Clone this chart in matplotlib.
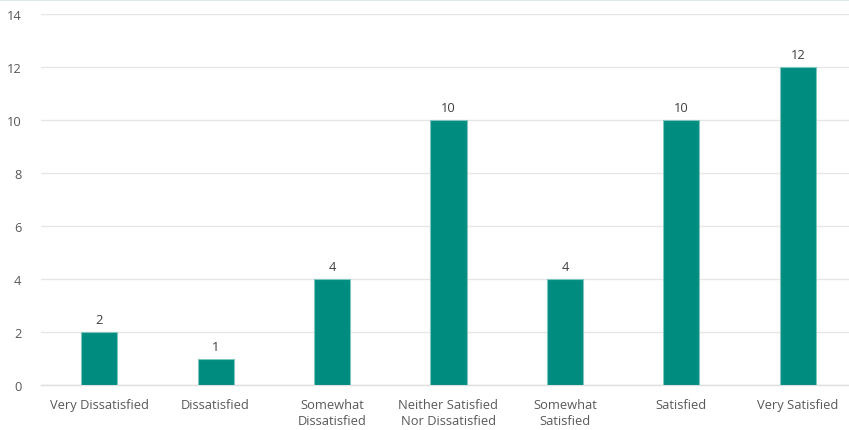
import matplotlib
matplotlib.use("Agg")
import matplotlib.pyplot as plt

categories = ["Very Dissatisfied", "Dissatisfied", "Somewhat\nDissatisfied",
              "Neither Satisfied\nNor Dissatisfied", "Somewhat\nSatisfied",
              "Satisfied", "Very Satisfied"]
counts = [2, 1, 4, 10, 4, 10, 12]
yticks = [0, 2, 4, 6, 8, 10, 12, 14]

plt.rcParams['font.family'] = ['Open Sans', 'DejaVu Sans']
bar_color = "#008C7F"
text_color = "#595959"

fig = plt.figure(figsize=(8.49, 4.31), dpi=100)
ax = fig.add_axes([0.0483, 0.1044, 0.9517, 0.8608])

x = list(range(len(categories)))
bars = ax.bar(x, counts, width=0.31, color=bar_color,
              edgecolor="#7FC6BF", linewidth=0.8, zorder=3)
for xi, v in zip(x, counts):
    ax.annotate(str(v), (xi, v), xytext=(0, 4), textcoords="offset points",
                ha="center", va="bottom", fontsize=9.3, color="#404040")

ax.set_xlim(-0.5, 6.44)
ax.set_ylim(0, 14)
ax.set_yticks(yticks)
ax.set_xticks(x)
ax.set_xticklabels(categories, fontsize=9.3, color=text_color, linespacing=1.3)
ax.tick_params(axis="y", labelsize=9.3, colors=text_color, length=0, pad=14)
ax.tick_params(axis="x", length=0, pad=9)
ax.grid(axis="y", color="#E6E6E6", linewidth=1, zorder=0)
for s in ["top", "right", "left"]:
    ax.spines[s].set_visible(False)
ax.spines["bottom"].set_color("#E0E0E0")
ax.spines["bottom"].set_linewidth(1)

# thin accent rule along the top edge of the figure
fig.add_artist(plt.Line2D([0, 1], [0.998, 0.998], color="#D3E8E6",
                          linewidth=1.2, transform=fig.transFigure))

fig.savefig("out.png", dpi=100)
